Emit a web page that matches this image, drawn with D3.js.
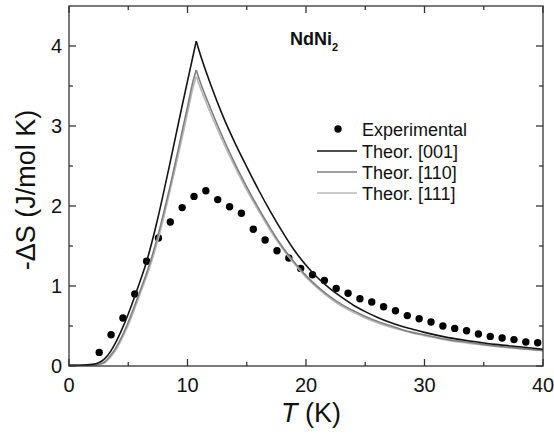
<!DOCTYPE html>
<html>
<head>
<meta charset="utf-8">
<script src="https://cdn.jsdelivr.net/npm/d3@7"></script>
<style>
  body { margin: 0; background: #fff; }
  svg text { font-family: Arial, "Liberation Sans", sans-serif; fill: #111; }
</style>
</head>
<body>
<div id="chart"></div>
<script>
// Experimental points (T in K, -dS in J/mol K)
const expT = [2.55, 3.55, 4.55, 5.55, 6.55, 7.55, 8.55, 9.55, 10.55, 11.55, 12.55, 13.55, 14.55,
  15.55, 16.55, 17.55, 18.55, 19.55, 20.55, 21.55, 22.55, 23.55, 24.55, 25.55, 26.55, 27.55,
  28.55, 29.55, 30.55, 31.55, 32.55, 33.55, 34.55, 35.55, 36.55, 37.55, 38.55, 39.55];
const expS = [0.17, 0.39, 0.60, 0.90, 1.31, 1.60, 1.80, 1.98, 2.12, 2.19, 2.08, 1.99, 1.91,
  1.71, 1.575, 1.44, 1.35, 1.22, 1.14, 1.07, 0.97, 0.91, 0.84, 0.80, 0.74, 0.69,
  0.63, 0.59, 0.55, 0.50, 0.47, 0.44, 0.40, 0.37, 0.35, 0.33, 0.30, 0.29];

// Theory curves, split at the peak so the cusp stays sharp
const riseT = [0, 1, 2, 2.5, 3, 3.5, 4, 4.5, 5, 5.5, 6, 6.5, 7, 7.5, 8, 8.5, 9, 9.5, 10, 10.5, 10.74];
const rise001 = [0.01, 0.01, 0.02, 0.04, 0.09, 0.18, 0.31, 0.47, 0.65, 0.85, 1.06, 1.28, 1.55, 1.85, 2.18, 2.52, 2.87, 3.22, 3.56, 3.90, 4.06];
const rise110 = [0.01, 0.01, 0.01, 0.02, 0.05, 0.13, 0.24, 0.38, 0.55, 0.74, 0.94, 1.14, 1.37, 1.63, 1.92, 2.23, 2.56, 2.90, 3.24, 3.58, 3.70];
const rise111 = [0.01, 0.01, 0.01, 0.015, 0.04, 0.11, 0.21, 0.35, 0.51, 0.70, 0.90, 1.10, 1.32, 1.57, 1.86, 2.17, 2.49, 2.82, 3.16, 3.50, 3.62];

const fallT = [10.74, 11, 12, 13, 14, 15, 16, 17, 18, 19, 20, 21, 22, 23, 24, 25, 26, 27, 28, 29, 30, 32, 34, 36, 38, 40];
const fall001 = [4.06, 3.93, 3.50, 3.12, 2.79, 2.49, 2.20, 1.93, 1.68, 1.45, 1.26, 1.10, 0.97, 0.86, 0.76, 0.68, 0.61, 0.55, 0.50, 0.46, 0.42, 0.355, 0.31, 0.27, 0.24, 0.21];
const fall110 = [3.70, 3.58, 3.20, 2.85, 2.53, 2.24, 1.97, 1.72, 1.49, 1.30, 1.13, 0.99, 0.87, 0.77, 0.69, 0.62, 0.56, 0.51, 0.46, 0.42, 0.39, 0.33, 0.29, 0.25, 0.22, 0.195];
const fall111 = [3.62, 3.51, 3.14, 2.80, 2.49, 2.20, 1.94, 1.69, 1.47, 1.28, 1.11, 0.97, 0.85, 0.75, 0.67, 0.60, 0.54, 0.49, 0.45, 0.41, 0.38, 0.32, 0.28, 0.245, 0.215, 0.19];

const xTicks = [0, 10, 20, 30, 40];
const yTicks = [0, 1, 2, 3, 4];
const xMinor = [5, 15, 25, 35];
const yMinor = [0.5, 1.5, 2.5, 3.5];

const series = [
  { name: "Theor. [111]", rise: rise111, fall: fall111, color: "#b9b9b9" },
  { name: "Theor. [110]", rise: rise110, fall: fall110, color: "#7f7f7f" },
  { name: "Theor. [001]", rise: rise001, fall: fall001, color: "#141414" },
];

const width = 554, height = 434;
const x = d3.scaleLinear().domain([0, 40]).range([69, 543]);
const y = d3.scaleLinear().domain([0, 4.5]).range([366, 6]);

const svg = d3.select("#chart").append("svg")
  .attr("width", width).attr("height", height);

// experimental dots (lines go on top of them)
svg.append("g").selectAll("circle")
  .data(expT.map((t, i) => [t, expS[i]]))
  .join("circle")
  .attr("cx", (d) => x(d[0]))
  .attr("cy", (d) => y(d[1]))
  .attr("r", 3.7)
  .attr("fill", "#000");

const line = d3.line()
  .x((d) => x(d[0]))
  .y((d) => y(d[1]))
  .curve(d3.curveMonotoneX);

const curves = svg.append("g").attr("fill", "none").attr("stroke-width", 1.6);
series.forEach((s) => {
  curves.append("path")
    .attr("stroke", s.color)
    .attr("d", line(riseT.map((t, i) => [t, s.rise[i]])));
  curves.append("path")
    .attr("stroke", s.color)
    .attr("d", line(fallT.map((t, i) => [t, s.fall[i]])));
});

// frame + inward ticks on all four sides
const frame = svg.append("g").attr("stroke", "#333").attr("stroke-width", 1.3);
frame.append("rect")
  .attr("x", x(0)).attr("y", y(4.5))
  .attr("width", x(40) - x(0)).attr("height", y(0) - y(4.5))
  .attr("fill", "none");

function xTick(v, len) {
  frame.append("line").attr("x1", x(v)).attr("x2", x(v)).attr("y1", y(0)).attr("y2", y(0) - len);
  frame.append("line").attr("x1", x(v)).attr("x2", x(v)).attr("y1", y(4.5)).attr("y2", y(4.5) + len);
}
function yTick(v, len) {
  frame.append("line").attr("y1", y(v)).attr("y2", y(v)).attr("x1", x(0)).attr("x2", x(0) + len);
  frame.append("line").attr("y1", y(v)).attr("y2", y(v)).attr("x1", x(40)).attr("x2", x(40) - len);
}
xTicks.forEach((v) => xTick(v, 7));
xMinor.forEach((v) => xTick(v, 4));
yTicks.forEach((v) => yTick(v, 7));
yMinor.forEach((v) => yTick(v, 4));

// tick labels
svg.append("g").selectAll("text")
  .data(xTicks).join("text")
  .attr("x", (d) => x(d)).attr("y", 392)
  .attr("text-anchor", "middle")
  .attr("font-size", 20)
  .text((d) => d);

svg.append("g").selectAll("text")
  .data(yTicks).join("text")
  .attr("x", 62).attr("y", (d) => y(d) + 7)
  .attr("text-anchor", "end")
  .attr("font-size", 20)
  .text((d) => d);

// axis titles
const xl = svg.append("text")
  .attr("x", 311).attr("y", 422)
  .attr("text-anchor", "middle")
  .attr("font-size", 27);
xl.append("tspan").attr("font-style", "italic").text("T");
xl.append("tspan").text(" (K)");

svg.append("text")
  .attr("transform", "translate(35,190) rotate(-90)")
  .attr("text-anchor", "middle")
  .attr("font-size", 27)
  .text("-\u0394S (J/mol K)");

// compound name
const title = svg.append("text")
  .attr("x", 290).attr("y", 45)
  .attr("font-size", 18)
  .attr("font-weight", "bold");
title.append("tspan").text("NdNi");
title.append("tspan").attr("font-size", 11).attr("dy", 6).text("2");

// legend
const legend = svg.append("g");
legend.append("circle").attr("cx", 338).attr("cy", 129).attr("r", 3.7).attr("fill", "#000");
legend.append("text").attr("x", 362).attr("y", 135.5)
  .attr("font-size", 18)
  .text("Experimental");

[...series].reverse().forEach((s, i) => {
  const ly = 151 + i * 21;
  legend.append("line")
    .attr("x1", 317).attr("x2", 357).attr("y1", ly).attr("y2", ly)
    .attr("stroke", s.color).attr("stroke-width", 1.6);
  legend.append("text").attr("x", 362).attr("y", ly + 6.5)
    .attr("font-size", 18)
    .text(s.name);
});
</script>
</body>
</html>
